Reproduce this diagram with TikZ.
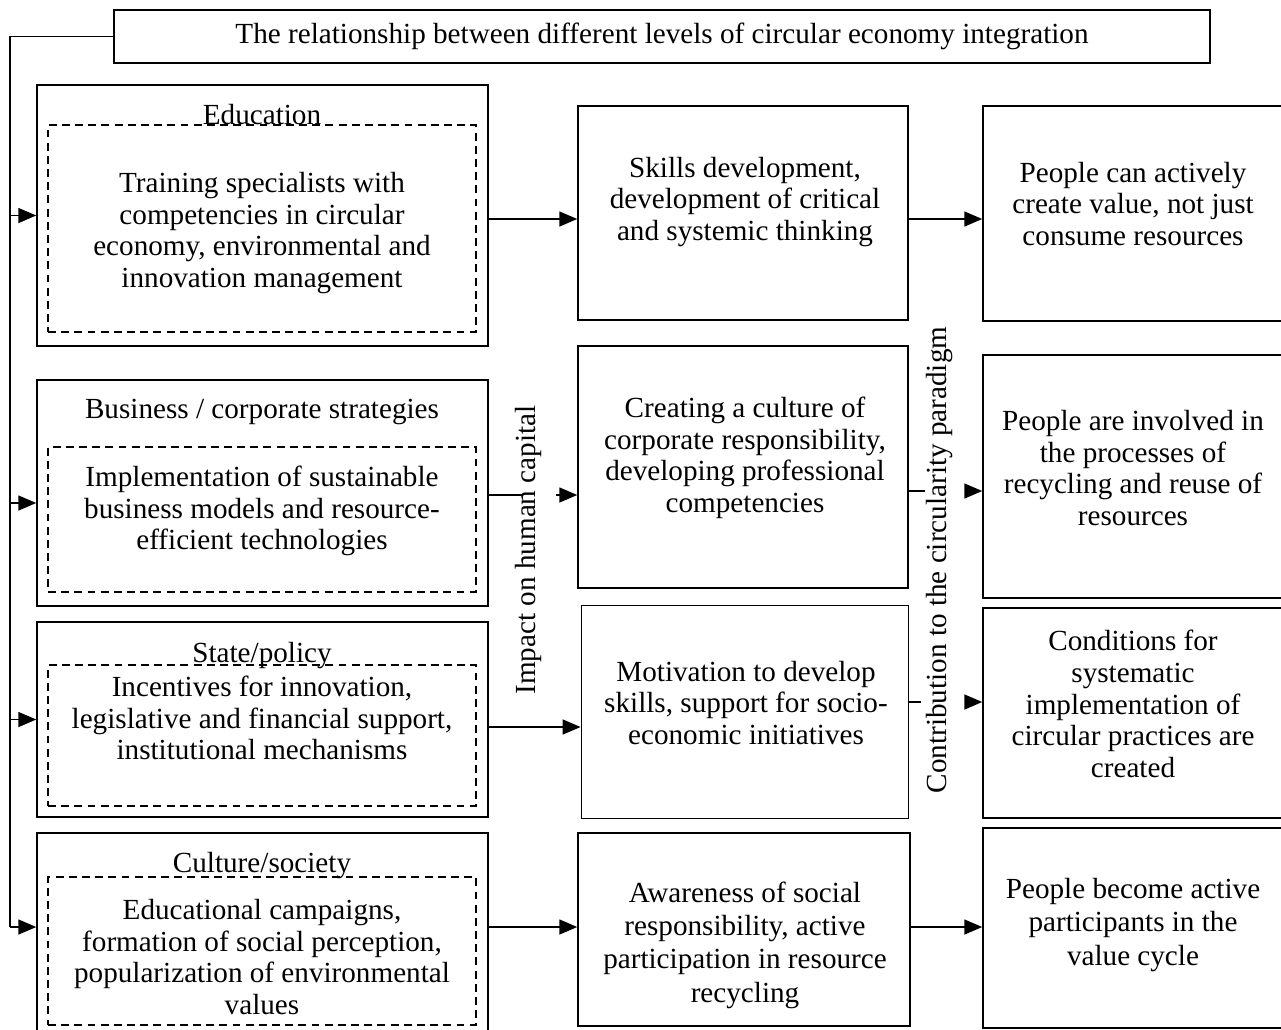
\documentclass[tikz,border=0pt]{standalone}
\usepackage{fontspec}
\setmainfont{Liberation Serif}
\usetikzlibrary{shapes,arrows,arrows.meta,positioning}

\begin{document}
\begin{tikzpicture}[x=0.02cm,y=-0.02cm,
	every node/.style={font=\fontsize{16.6}{18}\selectfont, align=center},
	box/.style={draw, line width=0.9pt, inner sep=0pt},
	thinbox/.style={draw, line width=0.5pt, inner sep=0pt},
	dbox/.style={draw, dash pattern=on 4.5pt off 3pt, line width=0.8pt, inner sep=0pt},
	loose/.style={font=\fontsize{16.6}{19}\selectfont},
	arr/.style={line width=0.9pt, -{Triangle[length=0.36cm,width=0.3cm]}},
	link/.style={line width=0.9pt}]
	\useasboundingbox (0,0) rectangle (1281,1029);
	\clip (0,0) rectangle (1281,1029);

	% title
	\node[box, minimum width=21.92cm, minimum height=1.06cm] (title) at (662,36.5) {The relationship between different levels of circular economy integration};

	% levels
	\node[box, minimum width=9.02cm, minimum height=5.22cm] (edu) at (262.5,215.5) {};
	\node[dbox, minimum width=8.56cm, minimum height=4.14cm] (edud) at (262,228.5) {};
	\node[anchor=base] (edul) at (262,124) {Education};
	\node (edut) at (262,233) {Training specialists with\\competencies in circular\\economy, environmental and\\innovation management};

	\node[box, minimum width=9.02cm, minimum height=4.52cm] (bus) at (262.5,493) {};
	\node[dbox, minimum width=8.56cm, minimum height=2.9cm] (busd) at (262,519.5) {};
	\node[anchor=base] (busl) at (262,418) {Business / corporate strategies};
	\node (bust) at (262,511) {Implementation of sustainable\\business models and resource-\\efficient technologies};

	\node[box, minimum width=9.02cm, minimum height=3.9cm] (sta) at (262.5,719.5) {};
	\node[dbox, minimum width=8.56cm, minimum height=2.82cm] (stad) at (262,735.5) {};
	\node[anchor=base] (stal) at (262,662) {State/policy};
	\node (stat) at (262,718) {Incentives for innovation,\\legislative and financial support,\\institutional mechanisms};

	\node[box, minimum width=9.02cm, minimum height=4.24cm] (cul) at (262.5,939) {};
	\node[dbox, minimum width=8.56cm, minimum height=2.96cm] (culd) at (262,951) {};
	\node[anchor=base] (cull) at (262,872) {Culture/society};
	\node (cult) at (262,957) {Educational campaigns,\\formation of social perception,\\popularization of environmental\\values};

	% impact on human capital
	\node[box, minimum width=6.6cm, minimum height=4.28cm] (skl) at (743,213) {};
	\node (sklt) at (745,202) {Skills development,\\development of critical\\and systemic thinking};
	\node[box, minimum width=6.6cm, minimum height=4.84cm] (cre) at (743,467) {};
	\node (cret) at (745,458) {Creating a culture of\\corporate responsibility,\\developing professional\\competencies};
	\node[thinbox, minimum width=6.54cm, minimum height=4.26cm] (mot) at (744.5,711.5) {};
	\node (mott) at (746,703) {Motivation to develop\\skills, support for socio-\\economic initiatives};
	\node[box, minimum width=6.64cm, minimum height=3.86cm] (awa) at (744,929.5) {};
	\node[loose] (awat) at (745,945) {Awareness of social\\responsibility, active\\participation in resource\\recycling};

	% contribution to the circularity paradigm
	\node[box, minimum width=6.02cm, minimum height=4.3cm] (pc) at (1133.5,213.5) {};
	\node (pct) at (1133,204) {People can actively\\create value, not just\\consume resources};
	\node[box, minimum width=6.02cm, minimum height=4.86cm] (pi) at (1133.5,476.5) {};
	\node (pit) at (1133,468) {People are involved in\\the processes of\\recycling and reuse of\\resources};
	\node[box, minimum width=6.02cm, minimum height=4.2cm] (cond) at (1133.5,713) {};
	\node (condt) at (1133,704) {Conditions for\\systematic\\implementation of\\circular practices are\\created};
	\node[box, minimum width=6.02cm, minimum height=4.0cm] (pb) at (1133.5,928) {};
	\node[loose] (pbt) at (1133,925) {People become active\\participants in the\\value cycle};

	% vertical captions
	\node[rotate=90] (imp) at (528,550) {Impact on human capital};
	\node[rotate=90] (con) at (940,560) {Contribution to the circularity paradigm};

	% left feed line
	\coordinate (top) at (10,36.5);
	\coordinate (bot) at (10,927);
	\draw[link] (title.west) -- (top) -- (bot);
	\draw[arr] (top |- edu.west) -- (edu.west);
	\draw[arr] ([yshift=-0.2cm]top |- bus.west) -- ([yshift=-0.2cm]bus.west);
	\draw[arr] (top |- sta.west) -- (sta.west);
	\draw[arr] (bot) -- (bot -| cul.west);

	% arrows between columns
	\coordinate (g1) at (523,495);
	\coordinate (g2) at (556,495);
	\coordinate (g3) at (925,491);
	\coordinate (g4) at (966,491);
	\coordinate (g5) at (921,702);
	\coordinate (g6) at (966,702);
	\draw[arr] ([yshift=-0.07cm]edu.east) -- ([yshift=-0.07cm]edu.east -| skl.west);
	\draw[arr] ([yshift=-0.07cm]edu.east -| skl.east) -- ([yshift=-0.07cm]edu.east -| pc.west);
	\draw[link] (bus.east |- g1) -- (g1);
	\draw[arr] (g2) -- (g2 -| cre.west);
	\draw[link] (cre.east |- g3) -- (g3);
	\draw[arr] (g4) -- (g4 -| pi.west);
	\draw[arr] ([yshift=-0.15cm]sta.east) -- ([yshift=-0.15cm]sta.east -| mot.west);
	\draw[link] (mot.east |- g5) -- (g5);
	\draw[arr] (g6) -- (g6 -| cond.west);
	\draw[arr] (cul.east |- bot) -- (awa.west |- bot);
	\draw[arr] (awa.east |- bot) -- (pb.west |- bot);
\end{tikzpicture}
\end{document}
